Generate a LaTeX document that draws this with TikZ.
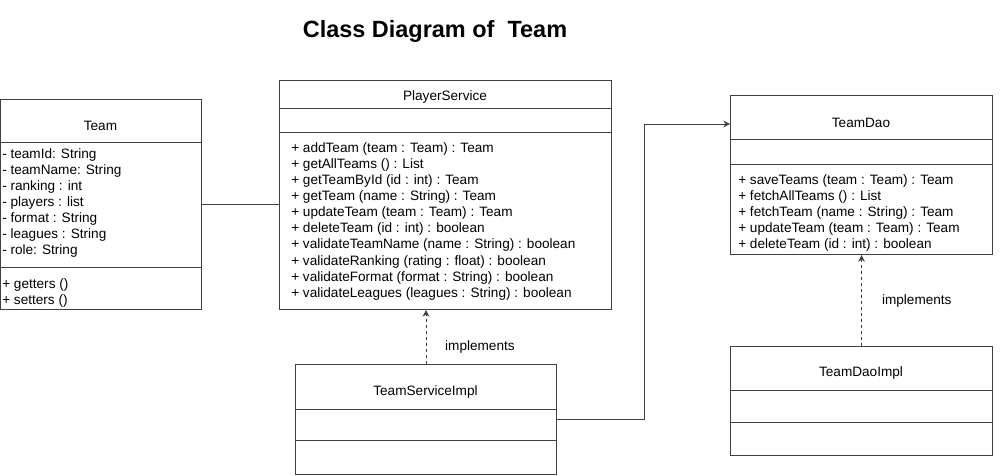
\documentclass[tikz,border=0pt]{standalone}
\usepackage{fontspec}
\setmainfont{Liberation Sans}
\usetikzlibrary{arrows.meta}

\begin{document}
\begin{tikzpicture}[x=0.75pt, y=-0.75pt,
	cls/.style={rectangle, draw=black!75, line width=0.75pt, anchor=north west, inner sep=0pt},
	sep/.style={draw=black!75, line width=0.75pt},
	txt/.style={font=\fontsize{10.2}{12.1}\selectfont, inner sep=0pt},
	lst/.style={txt, align=left, anchor=north west},
	conn/.style={draw=black!75, line width=0.75pt},
	impl/.style={conn, dash pattern=on 2.5pt off 2pt, -{Stealth[length=5pt, width=5pt]}}]
			\useasboundingbox (0,0) rectangle (1002,475);
			\node[font=\fontsize{17.6}{20}\selectfont\bfseries, anchor=base] (title) at (435,37.3) {Class Diagram of\ \ Team};
			% Team
			\node[cls, minimum width=201*0.75pt, minimum height=210*0.75pt] (team) at (0,99) {};
			\draw[sep] (0,142) -- (201,142);
			\draw[sep] (0,267) -- (201,267);
			\node[txt, anchor=base] (teamname) at (100.5,130) {Team};
			\node[lst] (teamattr) at (2,148) {- teamId: String\\- teamName: String\\- ranking : int\\- players : list\\- format : String\\- leagues : String\\- role: String};
			\node[lst] (teamops) at (2,278) {+ getters ()\\+ setters ()};
			% PlayerService
			\node[cls, minimum width=332*0.75pt, minimum height=229*0.75pt] (ps) at (279,80) {};
			\draw[sep] (279,108) -- (611,108);
			\draw[sep] (279,132) -- (611,132);
			\node[txt, anchor=base] (psname) at (445,100) {PlayerService};
			\node[lst] (psops) at (291,142) {+ addTeam (team : Team) : Team\\+ getAllTeams () : List\\+ getTeamById (id : int) : Team\\+ getTeam (name : String) : Team\\+ updateTeam (team : Team) : Team\\+ deleteTeam (id : int) : boolean\\+ validateTeamName (name : String) : boolean\\+ validateRanking (rating : float) : boolean\\+ validateFormat (format : String) : boolean\\+ validateLeagues (leagues : String) : boolean};
			% TeamDao
			\node[cls, minimum width=262*0.75pt, minimum height=159*0.75pt] (dao) at (730,95) {};
			\draw[sep] (730,139) -- (992,139);
			\draw[sep] (730,164) -- (992,164);
			\node[txt, anchor=base] (daoname) at (861,127.3) {TeamDao};
			\node[lst] (daoops) at (738,174) {+ saveTeams (team : Team) : Team\\+ fetchAllTeams () : List\\+ fetchTeam (name : String) : Team\\+ updateTeam (team : Team) : Team\\+ deleteTeam (id : int) : boolean};
			% TeamServiceImpl
			\node[cls, minimum width=261*0.75pt, minimum height=110*0.75pt] (tsi) at (295,364) {};
			\draw[sep] (295,409) -- (556,409);
			\draw[sep] (295,440) -- (556,440);
			\node[txt, anchor=base] (tsiname) at (425.5,395) {TeamServiceImpl};
			% TeamDaoImpl
			\node[cls, minimum width=262*0.75pt, minimum height=109*0.75pt] (tdi) at (730,346) {};
			\draw[sep] (730,390) -- (992,390);
			\draw[sep] (730,422) -- (992,422);
			\node[txt, anchor=base] (tdiname) at (861,376.7) {TeamDaoImpl};
			% connectors
			\coordinate (daoin) at (730,124);
			\draw[conn] (team.east) -- (team.east -| ps.west);
			\draw[conn, -{Stealth[length=5pt, width=5pt]}] (tsi.east) -- ++(87,0) |- (daoin);
			\draw[impl] (tsi.north) -- (tsi.north |- ps.south) node[txt, pos=0.31, right=14pt] {implements};
			\draw[impl] (tdi.north) -- (tdi.north |- dao.south) node[txt, pos=0.49, right=15pt] {implements};
\end{tikzpicture}
\end{document}
